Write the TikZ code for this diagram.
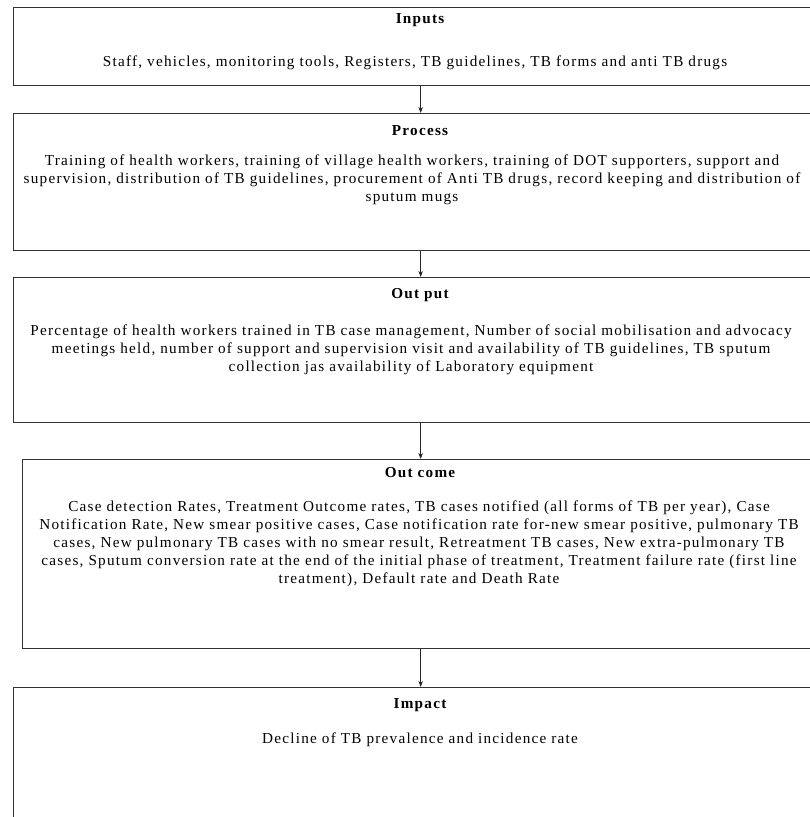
\documentclass[tikz,border=0pt]{standalone}
\usepackage{fontspec}
\setmainfont[LetterSpace=8.2]{Liberation Serif}
\usetikzlibrary{arrows.meta}
\begin{document}
\begin{tikzpicture}[x=1pt,y=1pt,
  box/.style={draw=black!80, line width=1.3pt, inner sep=0pt, anchor=north west},
  ttl/.style={font=\fontsize{15.2}{18}\selectfont\bfseries, anchor=base, inner sep=0pt},
  body/.style={font=\fontsize{15.2}{18}\selectfont, align=center, anchor=base, inner sep=0pt},
  arr/.style={-{Stealth[length=6pt,width=4.5pt]}, line width=0.9pt, black!85}]
\useasboundingbox (0,0) rectangle (810,-817);
\clip (0,0) rectangle (810,-817);
\fill[white] (0,0) rectangle (810,-817);
% boxes
\node[box, minimum width=814pt, minimum height=78pt] (inputs) at (13,-7) {};
\node[box, minimum width=814pt, minimum height=137pt] (process) at (13,-113) {};
\node[box, minimum width=814pt, minimum height=145pt] (output) at (13,-277) {};
\node[box, minimum width=796pt, minimum height=189pt] (outcome) at (22,-459) {};
\node[box, minimum width=814pt, minimum height=160pt] (impact) at (13,-687) {};
% connectors
\draw[arr] (inputs.south) -- (process.north);
\draw[arr] (process.south) -- (output.north);
\draw[arr] (output.south) -- (outcome.north);
\draw[arr] (outcome.south) -- (impact.north);
% texts
\node[ttl] (t1) at (420,-23) {Inputs};
\node[body] (b1) at (415,-66) {Staff, vehicles, monitoring tools, Registers, TB guidelines, TB forms and anti TB drugs};
\node[ttl] (t2) at (420,-135) {Process};
\node[body] (b2) at (412,-201) {Training of health workers, training of village health workers, training of DOT supporters, support and\\supervision, distribution of TB guidelines, procurement of Anti TB drugs, record keeping and distribution of\\sputum mugs};
\node[ttl] (t3) at (420,-298) {Out put};
\node[body] (b3) at (411,-371) {Percentage of health workers trained in TB case management, Number of social mobilisation and advocacy\\meetings held, number of support and supervision visit and availability of TB guidelines, TB sputum\\collection jas availability of Laboratory equipment};
\node[ttl] (t4) at (420,-477) {Out come};
\node[body] (b4) at (419,-583) {Case detection Rates, Treatment Outcome rates, TB cases notified (all forms of TB per year), Case\\Notification Rate, New smear positive cases, Case notification rate for-new smear positive, pulmonary TB\\cases, New pulmonary TB cases with no smear result, Retreatment TB cases, New extra-pulmonary TB\\cases, Sputum conversion rate at the end of the initial phase of treatment, Treatment failure rate (first line\\treatment), Default rate and Death Rate};
\node[ttl] (t5) at (420,-708) {Impact};
\node[body] (b5) at (420,-743) {Decline of TB prevalence and incidence rate};
\end{tikzpicture}
\end{document}
